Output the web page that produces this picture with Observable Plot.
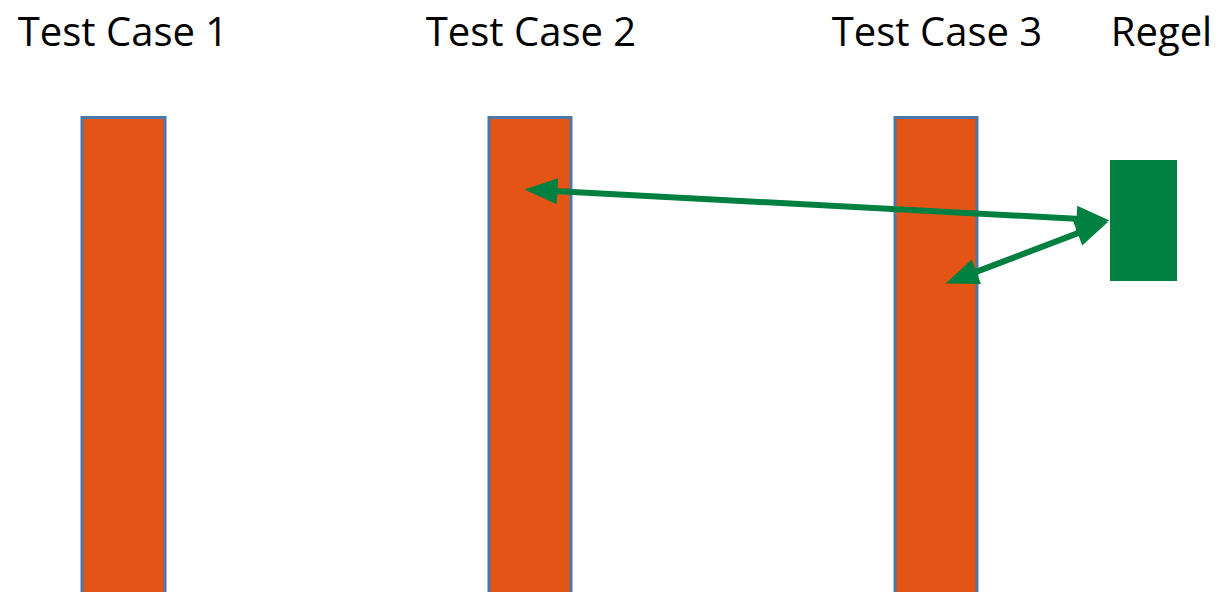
<!DOCTYPE html>
<html>
<head>
<meta charset="utf-8">
<script src="https://cdn.jsdelivr.net/npm/d3@7"></script>
<script src="https://cdn.jsdelivr.net/npm/@observablehq/plot@0.6"></script>
<style>
  html, body { margin: 0; padding: 0; background: #fff; }
  #chart svg { display: block; }
</style>
</head>
<body>
<div id="chart"></div>
<script>
// Diagram coordinates (abstract units, 1 unit = 1 px on the canvas, y downward)
const cases = ["Test Case 1", "Test Case 2", "Test Case 3"];
const caseLeft = [82, 489, 895];
const caseRight = [165, 571, 977];
const caseTop = [117.5, 117.5, 117.5];
const caseBottom = [600, 600, 600];
const labelX = [122.5, 530.5, 936.5];

const ruleLabel = "Regel";
const ruleLabelX = 1161;
const ruleBox = {x1: 1110, x2: 1177, y1: 160, y2: 281};

// double-headed arrows: [start point, end point]
const arrowFromX = [524, 945];
const arrowFromY = [189, 283];
const arrowToX = [1109, 1108];
const arrowToY = [220, 221];

const bars = cases.map((c, i) => ({c, x1: caseLeft[i], x2: caseRight[i], y1: caseTop[i], y2: caseBottom[i]}));
const labels = cases.map((c, i) => ({c, x: labelX[i]})).concat([{c: ruleLabel, x: ruleLabelX}]);

const HEAD_LEN = 33, HEAD_HALF = 13, TRIM = 20;
const arrows = arrowFromX.map((x, i) => ({x1: x, y1: arrowFromY[i], x2: arrowToX[i], y2: arrowToY[i]}));
const lines = arrows.map(a => {
  const dx = a.x2 - a.x1, dy = a.y2 - a.y1, L = Math.hypot(dx, dy);
  const ux = dx / L, uy = dy / L;
  return {x1: a.x1 + ux * TRIM, y1: a.y1 + uy * TRIM, x2: a.x2 - ux * TRIM, y2: a.y2 - uy * TRIM};
});
const heads = arrows.flatMap(a => {
  const dx = a.x2 - a.x1, dy = a.y2 - a.y1;
  const ang = (ddx, ddy) => Math.atan2(ddx, -ddy) * 180 / Math.PI;
  return [
    {x: a.x2, y: a.y2, r: ang(dx, dy)},
    {x: a.x1, y: a.y1, r: ang(-dx, -dy)}
  ];
});

const headSymbol = {
  draw(ctx) {
    ctx.moveTo(0, 0);
    ctx.lineTo(-HEAD_HALF, HEAD_LEN);
    ctx.lineTo(HEAD_HALF, HEAD_LEN);
    ctx.closePath();
  }
};

const ORANGE = "#E45416";
const OUTLINE = "#4C78A8";
const GREEN = "#008040";

const chart = Plot.plot({
  width: 1220,
  height: 592,
  margin: 0,
  x: {domain: [0, 1220], range: [0, 1220], axis: null},
  y: {domain: [0, 592], range: [0, 592], axis: null},
  style: {background: "#fff"},
  marks: [
    Plot.rect(bars, {x1: "x1", x2: "x2", y1: "y1", y2: "y2", fill: ORANGE, stroke: OUTLINE, strokeWidth: 3}),
    Plot.rect([ruleBox], {x1: "x1", x2: "x2", y1: "y1", y2: "y2", fill: GREEN}),
    Plot.link(lines, {x1: "x1", y1: "y1", x2: "x2", y2: "y2", stroke: GREEN, strokeWidth: 6}),
    Plot.dot(heads, {x: "x", y: "y", rotate: "r", symbol: headSymbol, fill: GREEN, stroke: "none", r: 10}),
    Plot.text(labels, {x: "x", y: () => 45, text: "c", fontSize: 40, fill: "#000", lineAnchor: "bottom", fontFamily: "Open Sans"})
  ]
});
document.getElementById("chart").appendChild(chart);
</script>
</body>
</html>
